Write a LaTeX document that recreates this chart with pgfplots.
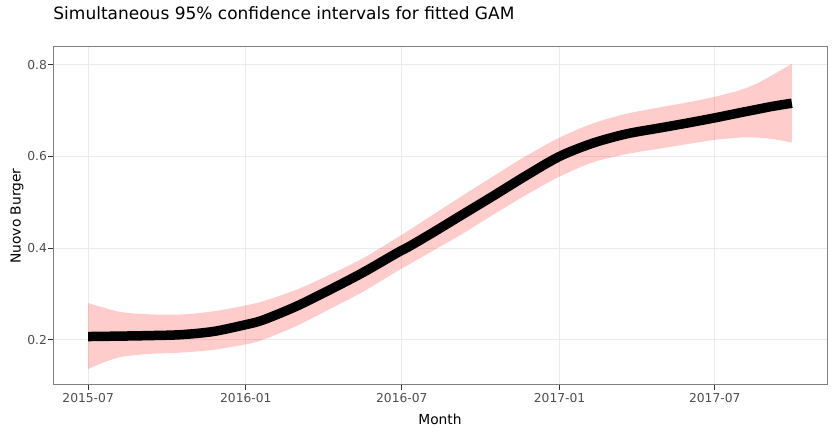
\documentclass[border=0pt]{standalone}
\usepackage{fontspec}
\setmainfont{DejaVu Sans}
\usepackage{pgfplots}
\usepackage{pgfplotstable}
\pgfplotsset{compat=1.18}
\usepgfplotslibrary{fillbetween}
\definecolor{gridc}{HTML}{EBEBEB}
\definecolor{tickc}{HTML}{4D4D4D}
\definecolor{framec}{HTML}{7F7F7F}
\definecolor{tickmc}{HTML}{333333}

\pgfplotstableread{
day fit lo hi
0   0.207 0.136 0.280
20  0.2075 0.152 0.269
40  0.208 0.163 0.260
70  0.209 0.169 0.2555
108 0.211 0.172 0.255
146 0.218 0.178 0.262
184 0.233 0.190 0.275
204 0.243 0.200 0.284
243 0.273 0.230 0.309
282 0.309 0.267 0.342
321 0.347 0.305 0.378
360 0.389 0.349 0.422
376 0.405 0.366 0.441
405 0.437 0.397 0.476
434 0.470 0.428 0.511
472 0.513 0.472 0.556
511 0.558 0.516 0.601
550 0.600 0.556 0.641
589 0.629 0.587 0.672
628 0.649 0.605 0.693
667 0.662 0.617 0.707
700 0.673 0.627 0.718
731 0.684 0.636 0.730
760 0.695 0.641 0.744
779 0.702 0.641 0.758
798 0.709 0.638 0.777
821 0.716 0.630 0.802
}\gam

\begin{document}
\begin{tikzpicture}
\begin{axis}[
  at={(53pt,61pt)}, anchor=south west,
  scale only axis, width=774pt, height=338pt,
  xmin=-41, xmax=862, ymin=0.1013, ymax=0.8386,
  xtick={0,184,366,550,731},
  xticklabels={2015-07,2016-01,2016-07,2017-01,2017-07},
  ytick={0.2,0.4,0.6,0.8},
  yticklabels={0.2,0.4,0.6,0.8},
  xtick pos=bottom, ytick pos=left,
  tick align=outside,
  major tick length=5pt,
  tick style={color=tickmc, line width=0.8pt},
  ticklabel style={font=\fontsize{12.3}{14}\selectfont, text=tickc},
  yticklabel style={xshift=2.5pt},
  axis line style={color=framec, line width=1pt},
  grid=major,
  grid style={color=gridc, line width=1pt},
  xlabel={Month},
  xlabel style={font=\fontsize{13.8}{16}\selectfont, at={(axis description cs:0.5,-0.1183)}, anchor=base},
  ylabel={Nuovo Burger},
  ylabel style={font=\fontsize{13.8}{16}\selectfont, at={(axis description cs:-0.0417,0.5)}, anchor=base},
  title={Simultaneous 95\% confidence intervals for fitted GAM},
  title style={font=\fontsize{17}{20}\selectfont, at={(axis description cs:-0.004,1.0621)}, anchor=base west},
]
\addplot[name path=hi, draw=none, smooth, forget plot] table[x=day, y=hi]{\gam};
\addplot[name path=lo, draw=none, smooth, forget plot] table[x=day, y=lo]{\gam};
\addplot[fill=red, fill opacity=0.2, draw=none, forget plot] fill between[of=hi and lo];
\addplot[black, line width=9.5pt, smooth, line cap=butt, line join=round] table[x=day, y=fit]{\gam};
\end{axis}
\path (0,0) rectangle (840pt,446pt);
\end{tikzpicture}
\end{document}
